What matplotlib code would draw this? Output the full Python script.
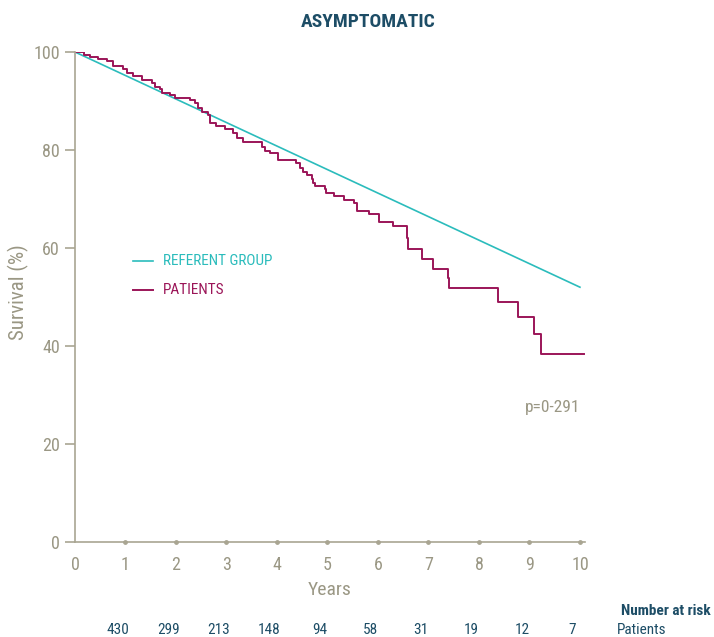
import numpy as np
import matplotlib
matplotlib.use('Agg')
from matplotlib import pyplot as plt
import matplotlib.transforms as mtransforms
from matplotlib import font_manager

names = {f.name for f in font_manager.fontManager.ttflist}
narrow = [n for n in ['Liberation Sans Narrow', 'DejaVu Sans Condensed', 'Roboto Condensed',
                      'Open Sans Condensed', 'Lato', 'Open Sans'] if n in names]
plt.rcParams['font.family'] = narrow[:1] + ['DejaVu Sans']

# Kaplan-Meier estimate for patients (years, survival %)
pat_years = [0, 0.18, 0.30, 0.46, 0.63, 0.76, 0.96, 1.02, 1.14, 1.32, 1.52, 1.58, 1.68, 1.72,
             1.88, 1.98, 2.28, 2.38, 2.44, 2.51, 2.64, 2.67, 2.80, 2.97, 3.13, 3.20, 3.33,
             3.70, 3.76, 3.86, 4.03, 4.38, 4.46, 4.52, 4.59, 4.69, 4.72, 4.75, 4.95, 4.98,
             5.13, 5.33, 5.52, 5.58, 5.83, 6.02, 6.30, 6.57, 6.59, 6.88, 7.08, 7.39, 7.41,
             8.38, 8.78, 9.09, 9.23, 10.08]
pat_surv = [100, 99.4, 99.0, 98.5, 98.1, 97.1, 96.5, 95.8, 95.1, 94.3, 93.6, 92.9, 92.4, 91.7,
            91.2, 90.7, 90.3, 89.5, 88.5, 87.8, 87.1, 85.6, 84.8, 84.2, 83.4, 82.4, 81.7,
            80.6, 79.7, 79.3, 78.0, 77.3, 76.3, 75.6, 74.8, 74.0, 73.2, 72.7, 72.0, 71.3,
            70.6, 69.8, 69.1, 67.6, 66.9, 65.3, 64.4, 62.0, 59.8, 57.7, 55.7, 53.8, 51.8,
            49.0, 45.9, 42.4, 38.4, 38.4]

# expected survival of referent group
ref_years = [0, 10]
ref_surv = [100, 52]

risk_years = [1, 2, 3, 4, 5, 6, 7, 8, 9, 10]
risk_patients = [430, 299, 213, 148, 94, 58, 31, 19, 12, 7]

TEAL = '#2bbcbc'
PLUM = '#9b1558'
GREY = '#a9a592'
TXT = '#9a9784'
NAVY = '#1d4d66'

fig = plt.figure(figsize=(7.14, 6.37), dpi=100)
ax = fig.add_axes([75/714, 95/637, 510/714, 490/637])

ax.plot(ref_years, ref_surv, color=TEAL, lw=1.2)
ax.step(pat_years, pat_surv, where='post', color=PLUM, lw=1.4)

ax.set_xlim(0, 10.1)
ax.set_ylim(0, 100)
for s in ['top', 'right']:
    ax.spines[s].set_visible(False)
for s in ['left', 'bottom']:
    ax.spines[s].set_color(GREY)
    ax.spines[s].set_linewidth(1.2)

ax.set_yticks([0, 20, 40, 60, 80, 100])
ax.set_xticks(range(0, 11))
ax.tick_params(axis='y', colors=GREY, labelcolor=TXT, labelsize=13, length=7, width=1.2, pad=4)
ax.tick_params(axis='x', length=0, labelcolor=TXT, labelsize=13, pad=10)
ax.scatter(risk_years, [0]*len(risk_years), s=6, color=GREY, clip_on=False, zorder=3)

fig.text(18/714, 1 - 292/637, 'Survival (%)', color=TXT, fontsize=15, rotation=90,
         ha='center', va='center')
ax.set_xlabel('Years', color=TXT, fontsize=14, labelpad=5)

fig.text(0.515, 0.965, 'ASYMPTOMATIC', ha='center', va='center', color=NAVY,
         fontsize=14, fontweight='bold')

# legend
ax.plot([1.15, 1.55], [57.3, 57.3], color=TEAL, lw=1.2)
ax.plot([1.15, 1.55], [51.4, 51.4], color=PLUM, lw=1.4)
ax.text(1.75, 57.3, 'REFERENT GROUP', color=TEAL, fontsize=11, va='center')
ax.text(1.75, 51.4, 'PATIENTS', color=PLUM, fontsize=11, va='center')

ax.text(10.0, 27.5, 'p=0-291', color=TXT, fontsize=12.5, ha='right', va='center')

# number at risk table
trans = mtransforms.blended_transform_factory(ax.transData, fig.transFigure)
fig.text(711/714, 1 - 611/637, 'Number at risk', color=NAVY, fontsize=11,
         fontweight='bold', va='center', ha='right')
fig.text(617/714, 1 - 630/637, 'Patients', color=NAVY, fontsize=11, va='center')
for yr, n in zip(risk_years, risk_patients):
    ax.text(yr - 0.15, 1 - 630/637, str(n), transform=trans, color=NAVY, fontsize=11,
            ha='center', va='center')

fig.savefig('out.png', dpi=100)
